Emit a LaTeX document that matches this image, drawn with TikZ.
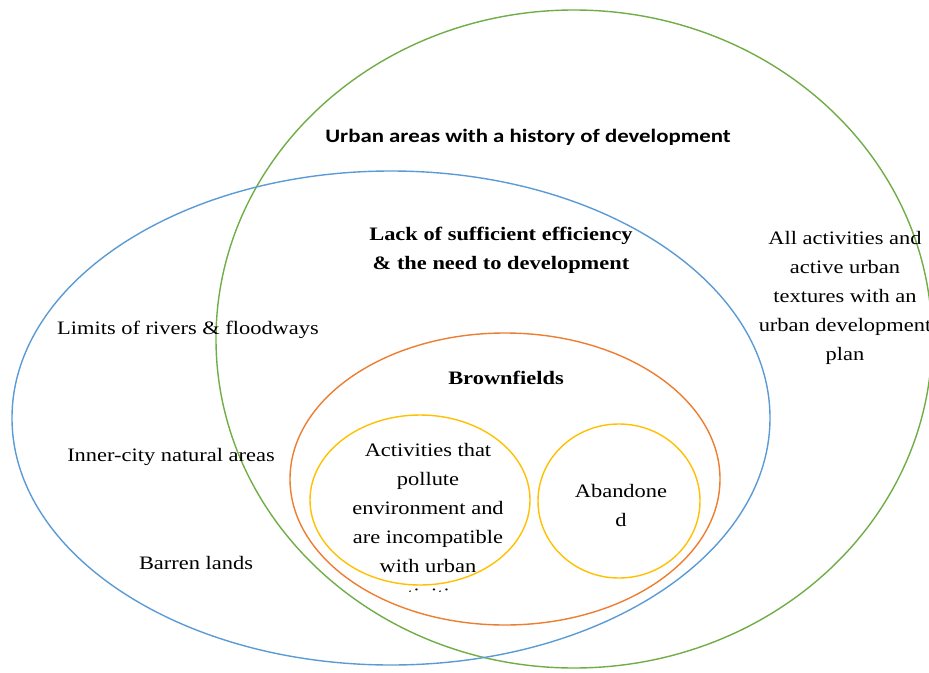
\documentclass[tikz,border=0pt]{standalone}
\usepackage{fontspec}
\setmainfont[FakeStretch=1.18]{Liberation Serif}
\newfontfamily\hdfont[FakeStretch=1.2]{Carlito}
\usetikzlibrary{shapes.geometric}
\definecolor{vnGreen}{RGB}{112, 173, 71}
\definecolor{vnBlue}{RGB}{91, 155, 213}
\definecolor{vnOrange}{RGB}{237, 125, 49}
\definecolor{vnYellow}{RGB}{255, 192, 0}
\tikzset{
  Ring/.style  = {ellipse, inner sep=0pt, line width=1.4pt},
  Lbl/.style   = {font=\fontsize{19}{29}\selectfont, align=center, inner sep=1pt},
  BLbl/.style  = {Lbl, font=\fontsize{19}{29}\selectfont\bfseries},
  Head/.style  = {font=\hdfont\fontsize{19}{23}\selectfont\bfseries, inner sep=1pt},
}

\begin{document}
\begin{tikzpicture}[x=1pt, y=-1pt]
\useasboundingbox (0,0) rectangle (929,672);

% ======================= rings ===========================================
\node[Ring, draw=vnGreen,  minimum width=716pt, minimum height=658pt] (urban)  at (574, 339) {};
\node[Ring, draw=vnBlue,   minimum width=758pt, minimum height=494pt] (lack)   at (391, 418) {};
\node[Ring, draw=vnOrange, minimum width=430pt, minimum height=292pt] (brown)  at (505, 479) {};
\node[Ring, draw=vnYellow, minimum width=220pt, minimum height=170pt] (pollut) at (420, 500) {};
\node[Ring, draw=vnYellow, minimum width=162pt, minimum height=154pt] (aband)  at (619, 501) {};

% ======================= labels ==========================================
\node[Head] (urbanLbl) at (528, 137) {Urban areas with a history of development};
\node[BLbl] (lackLbl)  at (501, 250) {Lack of sufficient efficiency\\ \& the need to development};
\node[Lbl]  (planLbl)  at (845, 298) {All activities and\\ active urban\\ textures with an\\ urban development\\ plan};
\node[BLbl] (brownLbl) at (506, 378) {Brownfields};
\node[Lbl]  (abandLbl) at (621, 505) {Abandone\\ d};
\begin{scope}
  \clip (300, 420) rectangle (560, 591);
  \node[Lbl] (pollutLbl) at (428, 522) {Activities that\\ pollute\\ environment and\\ are incompatible\\ with urban\\ activities};
\end{scope}
% outside the urban ring
\node[Lbl] (riverLbl)  at (188, 330) {Limits of rivers \& floodways};
\node[Lbl] (innerLbl)  at (171, 457) {Inner-city natural areas};
\node[Lbl] (barrenLbl) at (196, 563) {Barren lands};

\end{tikzpicture}
\end{document}
